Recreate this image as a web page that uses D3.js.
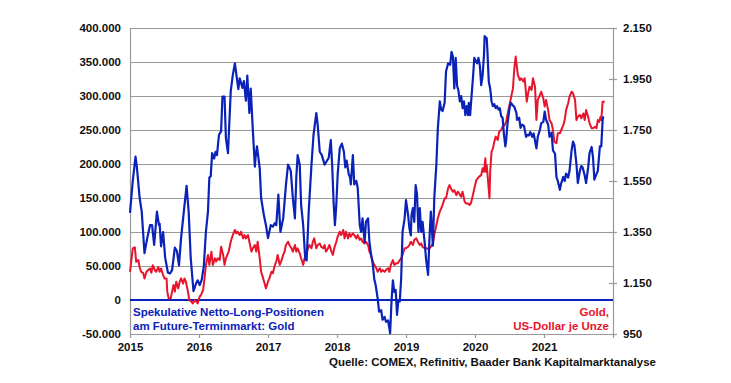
<!DOCTYPE html>
<html><head><meta charset="utf-8">
<script src="https://cdn.jsdelivr.net/npm/d3@7"></script>
<style>
html,body{margin:0;padding:0;background:#fff;}
svg{display:block;font-family:"Liberation Sans",Arial,sans-serif;}
</style></head>
<body><svg id="c" width="731" height="383"></svg>
<script>
// Net long positions (thousands of contracts), [decimal year, value]
const netLong = [
[2015.00,128],[2015.04,175],[2015.08,211],[2015.10,195],[2015.14,150],[2015.17,130],[2015.21,69],[2015.25,91],[2015.29,110],[2015.32,110],[2015.35,81],[2015.39,130],[2015.42,110],[2015.43,112],[2015.45,79],[2015.48,100],[2015.51,62],[2015.55,40],[2015.58,39],[2015.61,44],[2015.65,77],[2015.68,72],[2015.71,51],[2015.74,91],[2015.78,130],[2015.82,168],[2015.85,130],[2015.88,62],[2015.92,13],[2015.96,25],[2015.98,29],[2016.01,22],[2016.04,30],[2016.07,50],[2016.10,100],[2016.13,130],[2016.15,180],[2016.17,182],[2016.19,216],[2016.22,208],[2016.24,218],[2016.26,213],[2016.29,243],[2016.32,248],[2016.34,299],[2016.37,299],[2016.39,238],[2016.42,216],[2016.46,307],[2016.49,331],[2016.52,348],[2016.57,310],[2016.59,326],[2016.63,312],[2016.65,322],[2016.68,293],[2016.70,330],[2016.73,275],[2016.75,311],[2016.78,250],[2016.81,196],[2016.82,210],[2016.84,226],[2016.88,194],[2016.90,150],[2016.94,125],[2016.97,110],[2017.00,91],[2017.04,110],[2017.07,108],[2017.10,113],[2017.12,110],[2017.15,155],[2017.18,100],[2017.22,120],[2017.26,169],[2017.29,199],[2017.31,195],[2017.33,190],[2017.36,150],[2017.39,120],[2017.41,180],[2017.43,213],[2017.46,199],[2017.48,140],[2017.51,110],[2017.54,60],[2017.56,58],[2017.59,130],[2017.63,199],[2017.66,243],[2017.70,275],[2017.72,258],[2017.75,218],[2017.78,213],[2017.82,199],[2017.85,204],[2017.88,209],[2017.91,235],[2017.93,199],[2017.95,145],[2017.97,110],[2017.99,140],[2018.01,185],[2018.04,223],[2018.07,230],[2018.10,218],[2018.12,195],[2018.14,205],[2018.17,185],[2018.19,180],[2018.20,170],[2018.23,213],[2018.25,170],[2018.28,175],[2018.30,165],[2018.33,110],[2018.35,100],[2018.37,120],[2018.40,85],[2018.42,115],[2018.45,120],[2018.47,85],[2018.49,70],[2018.52,51],[2018.54,31],[2018.56,22],[2018.59,2],[2018.61,-17],[2018.64,-15],[2018.66,-29],[2018.69,-25],[2018.71,-32],[2018.74,-30],[2018.76,-42],[2018.77,-49],[2018.79,-2],[2018.81,29],[2018.83,12],[2018.85,15],[2018.87,-22],[2018.89,0],[2018.91,-2],[2018.93,32],[2018.95,100],[2018.98,120],[2019.00,147],[2019.03,125],[2019.05,105],[2019.07,95],[2019.08,125],[2019.10,135],[2019.12,115],[2019.14,169],[2019.16,155],[2019.18,100],[2019.20,135],[2019.22,100],[2019.24,115],[2019.27,85],[2019.29,61],[2019.32,37],[2019.34,90],[2019.36,130],[2019.39,80],[2019.41,150],[2019.44,199],[2019.46,250],[2019.49,292],[2019.51,280],[2019.53,278],[2019.56,290],[2019.58,336],[2019.61,348],[2019.64,346],[2019.66,365],[2019.68,358],[2019.70,311],[2019.72,356],[2019.74,315],[2019.76,308],[2019.78,292],[2019.80,300],[2019.82,282],[2019.84,292],[2019.86,272],[2019.88,285],[2019.90,272],[2019.91,290],[2019.93,272],[2019.95,300],[2019.97,326],[2019.99,356],[2020.01,352],[2020.03,348],[2020.05,356],[2020.07,345],[2020.09,316],[2020.11,330],[2020.13,360],[2020.14,388],[2020.17,385],[2020.18,366],[2020.20,321],[2020.22,311],[2020.24,292],[2020.26,285],[2020.28,288],[2020.30,282],[2020.32,285],[2020.34,280],[2020.36,282],[2020.38,270],[2020.40,268],[2020.42,243],[2020.44,226],[2020.45,233],[2020.47,258],[2020.50,282],[2020.52,290],[2020.55,286],[2020.57,284],[2020.60,275],[2020.61,265],[2020.64,268],[2020.66,253],[2020.68,258],[2020.71,256],[2020.74,240],[2020.76,243],[2020.78,242],[2020.80,247],[2020.83,240],[2020.85,245],[2020.89,223],[2020.91,240],[2020.94,250],[2020.96,260],[2020.99,262],[2021.01,277],[2021.03,265],[2021.06,258],[2021.08,240],[2021.11,246],[2021.13,220],[2021.16,215],[2021.18,181],[2021.20,175],[2021.23,162],[2021.25,172],[2021.28,181],[2021.30,175],[2021.32,186],[2021.35,180],[2021.37,190],[2021.40,220],[2021.42,233],[2021.44,228],[2021.47,200],[2021.49,172],[2021.52,190],[2021.54,197],[2021.56,195],[2021.59,183],[2021.61,172],[2021.64,195],[2021.66,216],[2021.69,225],[2021.71,210],[2021.73,177],[2021.76,185],[2021.78,190],[2021.81,226],[2021.83,226],[2021.85,265],[2021.86,270]
];
// Gold price, USD per ounce, [decimal year, value]
const goldPrice = [
[2015.00,1194],[2015.04,1286],[2015.07,1290],[2015.09,1233],[2015.12,1240],[2015.14,1212],[2015.16,1194],[2015.19,1190],[2015.21,1168],[2015.24,1194],[2015.26,1200],[2015.29,1207],[2015.31,1190],[2015.33,1220],[2015.36,1200],[2015.38,1194],[2015.41,1212],[2015.43,1194],[2015.45,1207],[2015.48,1181],[2015.50,1168],[2015.53,1168],[2015.54,1116],[2015.56,1090],[2015.59,1090],[2015.61,1116],[2015.63,1142],[2015.65,1116],[2015.67,1155],[2015.70,1129],[2015.72,1155],[2015.74,1168],[2015.77,1148],[2015.79,1168],[2015.81,1155],[2015.84,1116],[2015.86,1083],[2015.89,1077],[2015.91,1070],[2015.94,1083],[2015.96,1077],[2015.98,1070],[2016.01,1097],[2016.03,1103],[2016.06,1123],[2016.08,1168],[2016.10,1220],[2016.13,1260],[2016.15,1221],[2016.18,1273],[2016.20,1221],[2016.23,1247],[2016.25,1234],[2016.27,1247],[2016.30,1240],[2016.32,1292],[2016.35,1260],[2016.37,1221],[2016.39,1247],[2016.43,1273],[2016.46,1312],[2016.49,1338],[2016.52,1358],[2016.54,1345],[2016.56,1351],[2016.59,1338],[2016.61,1351],[2016.64,1325],[2016.66,1338],[2016.68,1325],[2016.71,1338],[2016.73,1312],[2016.76,1273],[2016.78,1286],[2016.81,1299],[2016.83,1273],[2016.85,1312],[2016.88,1247],[2016.90,1194],[2016.93,1168],[2016.95,1149],[2016.97,1129],[2017.00,1155],[2017.02,1168],[2017.05,1194],[2017.07,1188],[2017.10,1221],[2017.12,1234],[2017.14,1260],[2017.17,1221],[2017.19,1234],[2017.22,1260],[2017.24,1273],[2017.26,1299],[2017.29,1312],[2017.31,1299],[2017.34,1286],[2017.36,1273],[2017.39,1299],[2017.41,1273],[2017.43,1286],[2017.46,1266],[2017.48,1247],[2017.51,1221],[2017.53,1247],[2017.55,1260],[2017.58,1286],[2017.60,1299],[2017.63,1286],[2017.65,1312],[2017.67,1325],[2017.70,1286],[2017.72,1299],[2017.75,1305],[2017.77,1292],[2017.80,1286],[2017.82,1299],[2017.84,1273],[2017.87,1286],[2017.89,1299],[2017.92,1273],[2017.94,1260],[2017.96,1286],[2017.99,1312],[2018.01,1332],[2018.04,1351],[2018.06,1338],[2018.09,1358],[2018.11,1325],[2018.13,1351],[2018.16,1325],[2018.18,1345],[2018.20,1332],[2018.23,1345],[2018.25,1338],[2018.28,1325],[2018.30,1338],[2018.33,1319],[2018.35,1325],[2018.37,1312],[2018.40,1305],[2018.42,1312],[2018.45,1299],[2018.47,1273],[2018.49,1260],[2018.52,1234],[2018.54,1221],[2018.57,1208],[2018.59,1194],[2018.62,1208],[2018.64,1194],[2018.66,1201],[2018.69,1194],[2018.71,1201],[2018.74,1208],[2018.76,1194],[2018.78,1221],[2018.81,1240],[2018.83,1221],[2018.86,1227],[2018.88,1227],[2018.91,1240],[2018.93,1247],[2018.95,1260],[2018.98,1286],[2019.00,1286],[2019.03,1292],[2019.05,1299],[2019.07,1312],[2019.10,1299],[2019.12,1319],[2019.15,1325],[2019.17,1312],[2019.20,1299],[2019.22,1305],[2019.24,1292],[2019.27,1286],[2019.29,1288],[2019.32,1283],[2019.34,1286],[2019.36,1292],[2019.39,1305],[2019.41,1338],[2019.44,1377],[2019.46,1403],[2019.49,1430],[2019.51,1443],[2019.53,1456],[2019.56,1482],[2019.58,1482],[2019.61,1521],[2019.63,1534],[2019.65,1521],[2019.68,1508],[2019.70,1514],[2019.73,1495],[2019.75,1508],[2019.77,1501],[2019.80,1488],[2019.82,1508],[2019.85,1469],[2019.87,1462],[2019.90,1462],[2019.92,1456],[2019.94,1462],[2019.97,1495],[2019.99,1521],[2020.02,1554],[2020.04,1560],[2020.06,1567],[2020.09,1573],[2020.11,1600],[2020.13,1586],[2020.15,1639],[2020.16,1586],[2020.17,1612],[2020.19,1547],[2020.21,1482],[2020.22,1586],[2020.24,1665],[2020.26,1678],[2020.28,1704],[2020.30,1724],[2020.33,1711],[2020.35,1743],[2020.38,1750],[2020.40,1763],[2020.43,1769],[2020.45,1782],[2020.47,1809],[2020.50,1848],[2020.52,1874],[2020.55,1913],[2020.57,1992],[2020.59,2038],[2020.62,1966],[2020.65,1946],[2020.67,1953],[2020.70,1940],[2020.72,1953],[2020.75,1861],[2020.77,1894],[2020.79,1920],[2020.82,1907],[2020.84,1953],[2020.87,1920],[2020.89,1789],[2020.91,1868],[2020.94,1887],[2020.96,1900],[2020.99,1874],[2021.01,1842],[2021.03,1868],[2021.06,1828],[2021.08,1789],[2021.11,1776],[2021.13,1750],[2021.15,1704],[2021.18,1698],[2021.20,1737],[2021.23,1737],[2021.25,1750],[2021.28,1769],[2021.30,1789],[2021.32,1828],[2021.35,1855],[2021.37,1881],[2021.40,1900],[2021.42,1894],[2021.45,1868],[2021.47,1789],[2021.49,1802],[2021.52,1809],[2021.54,1796],[2021.57,1815],[2021.59,1789],[2021.61,1828],[2021.64,1802],[2021.66,1776],[2021.69,1757],[2021.71,1757],[2021.74,1763],[2021.76,1757],[2021.78,1789],[2021.80,1782],[2021.82,1802],[2021.83,1789],[2021.85,1861],[2021.88,1861]
];
const yearTicks = [2015,2016,2017,2018,2019,2020,2021];
const leftTicks = [-50,0,50,100,150,200,250,300,350,400];
const rightTicks = [950,1150,1350,1550,1750,1950,2150];
const leftLabel = ["Spekulative Netto-Long-Positionen","am Future-Terminmarkt: Gold"];
const rightLabel = ["Gold,","US-Dollar je Unze"];
const sourceText = "Quelle: COMEX, Refinitiv, Baader Bank Kapitalmarktanalyse";

const BLUE = "#0a22b8", RED = "#e8142c", GRID = "#9a9a9a";
const FS = 11.5;
const loc = d3.formatLocale({decimal:",",thousands:".",grouping:[3],currency:["","€"],minus:"-"});
const fmt = loc.format(",");

const svg = d3.select("#c");
const L = 130, R = 613, T = 28, B = 334;
const x = d3.scaleLinear().domain([2015,2022]).range([L,R]);
const yL = d3.scaleLinear().domain([-50,400]).range([B,T]);
const yR = d3.scaleLinear().domain([950,2150]).range([B,T]);

// gridlines
svg.append("g").selectAll("line").data(leftTicks.filter(d=>d!==-50 && d!==0)).join("line")
  .attr("x1",L).attr("x2",R).attr("y1",d=>Math.round(yL(d))+0.5).attr("y2",d=>Math.round(yL(d))+0.5)
  .attr("stroke",GRID).attr("stroke-width",1.2);

// left axis
const gl = svg.append("g").attr("transform",`translate(${L},0)`)
  .call(d3.axisLeft(yL).tickValues(leftTicks).tickSize(0).tickPadding(9).tickFormat(d=>fmt(d*1000)));
gl.select(".domain").attr("stroke",GRID).attr("stroke-width",1.2);
gl.selectAll("text").attr("font-size",FS).attr("font-weight","bold").attr("fill","#111");

// right axis
const gr = svg.append("g").attr("transform",`translate(${R},0)`)
  .call(d3.axisRight(yR).tickValues(rightTicks).tickSize(4).tickPadding(6).tickFormat(d=>fmt(d)));
gr.select(".domain").attr("stroke",GRID).attr("stroke-width",1.2);
gr.selectAll(".tick line").attr("stroke",GRID).attr("x1",-4).attr("stroke-width",1.2);
gr.selectAll("text").attr("font-size",FS).attr("font-weight","bold").attr("fill","#111");

// bottom axis
const gb = svg.append("g").attr("transform",`translate(0,${B})`)
  .call(d3.axisBottom(x).tickValues(yearTicks).tickSize(4).tickPadding(5).tickFormat(d=>d));
gb.select(".domain").attr("stroke",GRID).attr("stroke-width",1.2);
gb.selectAll(".tick line").attr("stroke",GRID).attr("stroke-width",1.2);
gb.selectAll("text").attr("font-size",FS).attr("font-weight","bold").attr("fill","#111");

// zero line
svg.append("line").attr("x1",L).attr("x2",R).attr("y1",yL(0)).attr("y2",yL(0))
  .attr("stroke",BLUE).attr("stroke-width",2);

// lines
svg.append("path").datum(goldPrice)
  .attr("d",d3.line().x(d=>x(d[0])).y(d=>yR(d[1])))
  .attr("fill","none").attr("stroke",RED).attr("stroke-width",2).attr("stroke-linejoin","round");
svg.append("path").datum(netLong)
  .attr("d",d3.line().x(d=>x(d[0])).y(d=>yL(d[1])))
  .attr("fill","none").attr("stroke",BLUE).attr("stroke-width",2.2).attr("stroke-linejoin","round");

// labels
svg.append("text").attr("x",L+3).attr("y",316).attr("fill",BLUE)
  .attr("font-size",FS).attr("font-weight","bold")
  .selectAll("tspan").data(leftLabel).join("tspan").attr("x",L+3).attr("dy",(d,i)=>i?13.5:0).text(d=>d);
svg.append("text").attr("x",R-4).attr("y",316).attr("fill",RED).attr("text-anchor","end")
  .attr("font-size",FS).attr("font-weight","bold")
  .selectAll("tspan").data(rightLabel).join("tspan").attr("x",R-4).attr("dy",(d,i)=>i?13.5:0).text(d=>d);
svg.append("text").attr("x",656).attr("y",366).attr("text-anchor","end")
  .attr("font-size",FS).attr("font-weight","bold").attr("fill","#111").text(sourceText);
</script></body></html>
